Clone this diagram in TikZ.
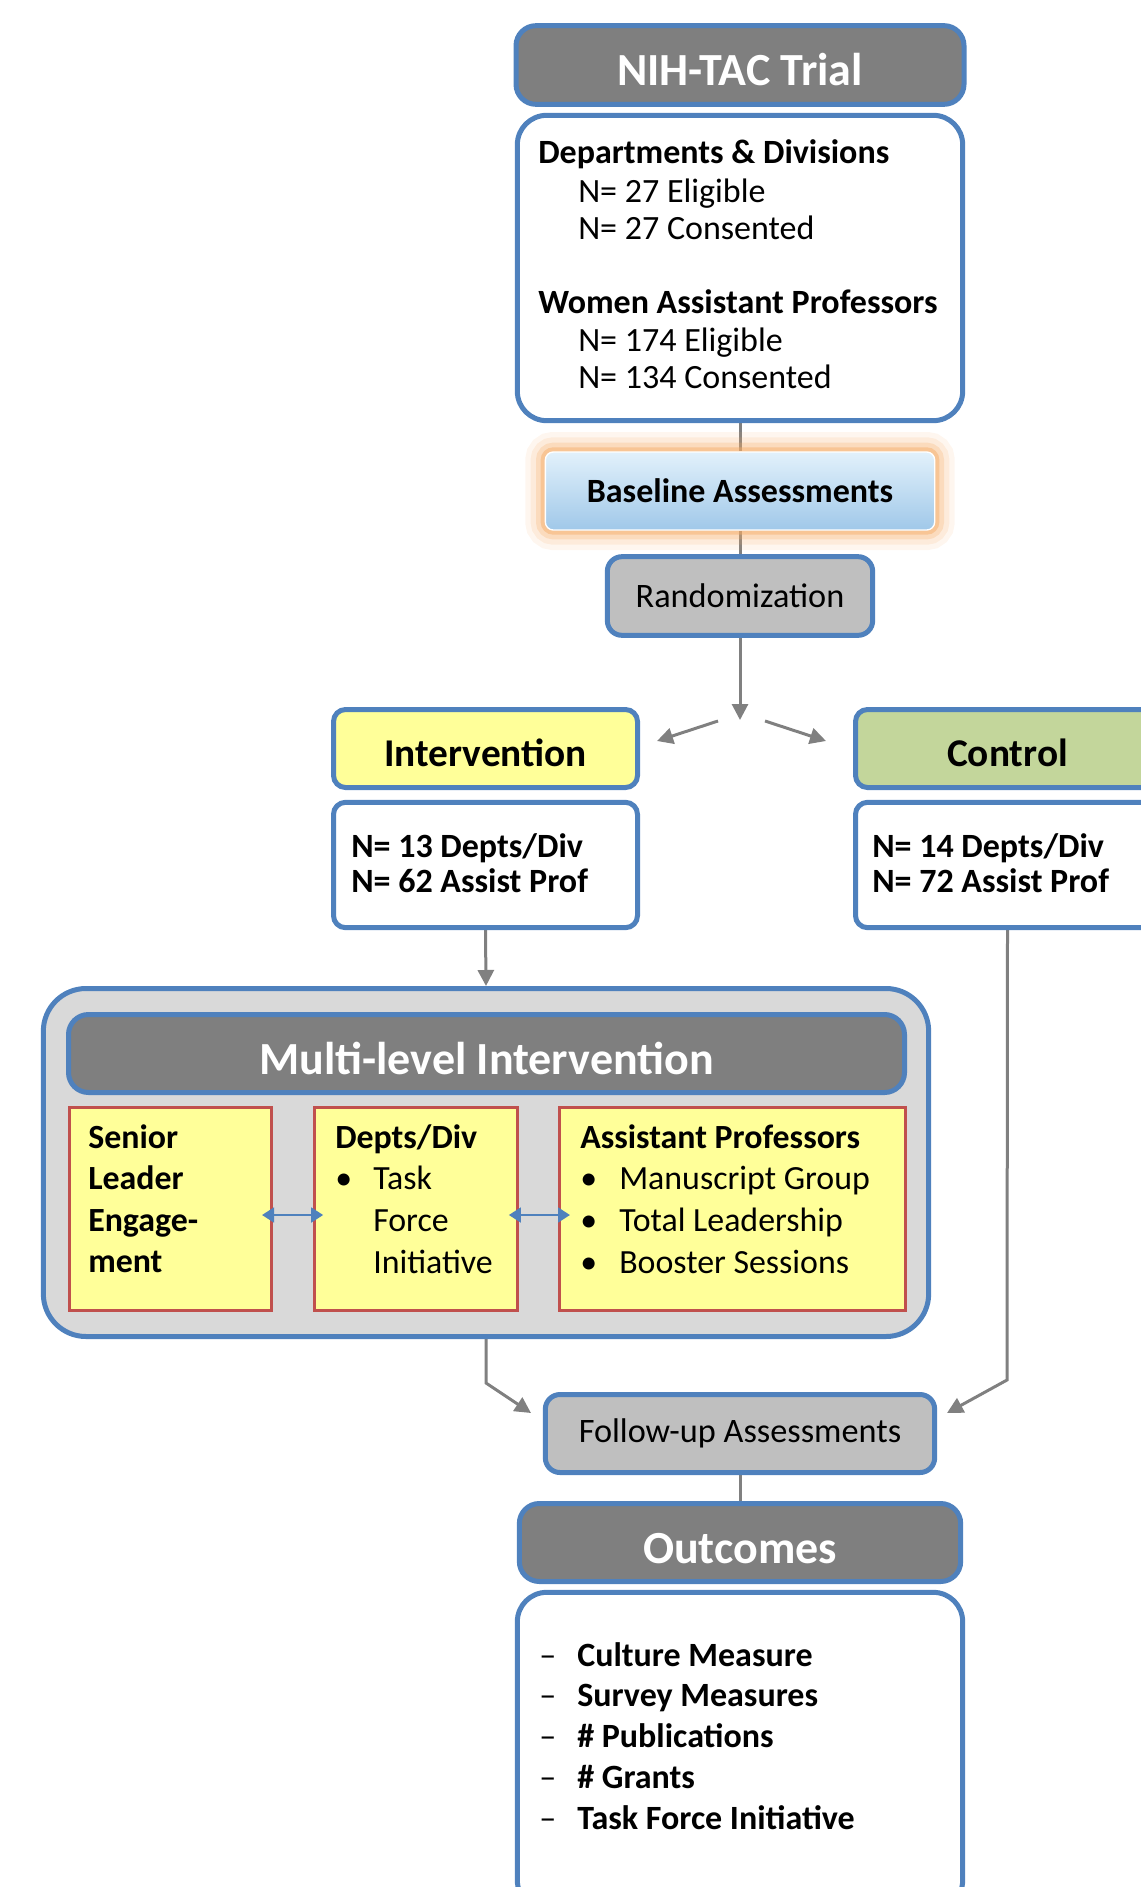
\documentclass[tikz,border=0pt]{standalone}
\usepackage{fontspec}
\setmainfont{Carlito}
\usepackage{tikz}
\usetikzlibrary{arrows.meta,backgrounds,calc}

\definecolor{boxblue}{RGB}{79,129,189}
\definecolor{hdrgray}{RGB}{127,127,127}
\definecolor{stepgray}{RGB}{191,191,191}
\definecolor{wrapgray}{RGB}{217,217,217}
\definecolor{paleyellow}{RGB}{255,255,153}
\definecolor{ctrlgreen}{RGB}{195,214,155}
\definecolor{redline}{RGB}{192,80,77}
\definecolor{linegray}{RGB}{128,128,128}
\definecolor{glow}{RGB}{245,170,100}
\definecolor{blueTop}{RGB}{226,241,251}
\definecolor{blueBot}{RGB}{160,200,233}

\tikzset{
  every node/.style={inner sep=0pt},
  hdr/.style={draw=boxblue, line width=3.75pt, fill=hdrgray, rounded corners=15pt, text=white, text height=31pt, text depth=0pt, font=\fontsize{34.5}{40}\selectfont\bfseries},
  infobox/.style={draw=boxblue, line width=3.75pt, fill=white, rounded corners=22pt},
  graybox/.style={draw=boxblue, line width=3.75pt, fill=stepgray, rounded corners=11pt, font=\fontsize{25.7}{30}\selectfont},
  armbox/.style={draw=boxblue, line width=3.75pt, rounded corners=9pt, minimum width=228pt, text height=27pt, text depth=0pt, font=\fontsize{29.5}{34}\selectfont\bfseries},
  levelbox/.style={draw=redline, line width=2.25pt, fill=paleyellow, minimum height=152pt},
  glowbox/.style={rounded corners=6pt, top color=blueTop, bottom color=blueBot, draw=white, line width=1pt,
    preaction={draw=glow, line width=30pt, opacity=0.1},
    preaction={draw=glow, line width=22pt, opacity=0.15},
    preaction={draw=glow, line width=14pt, opacity=0.25},
    preaction={draw=glow, line width=7pt, opacity=0.45},
    font=\fontsize{25.5}{30}\selectfont\bfseries},
  txt/.style={anchor=base west, font=\fontsize{25.5}{30}\selectfont},
  btxt/.style={anchor=base west, font=\fontsize{25.5}{30}\selectfont\bfseries},
  mtxt/.style={anchor=base west, font=\fontsize{25.4}{30}\selectfont},
  mbtxt/.style={anchor=base west, font=\fontsize{25.4}{30}\selectfont\bfseries},
  conn/.style={draw=linegray, line width=2.25pt},
  arr/.style={conn, -{Triangle[length=12pt,width=12pt]}},
  dblarr/.style={draw=boxblue, line width=2pt, {Triangle[length=9pt,width=11pt]}-{Triangle[length=9pt,width=11pt]}}
}

\begin{document}
\begin{tikzpicture}[x=0.75pt,y=0.75pt,yscale=-1,xscale=1]
\useasboundingbox (0,0) rectangle (1141,1887);

% Trial header
\node[hdr, minimum width=336pt, minimum height=59pt] (trial) at (740,65) {NIH-TAC Trial};
% Eligibility box
\node[infobox, minimum width=334pt, minimum height=229pt] (elig) at (740,268) {};
\node[btxt] (deptHead) at (538,164) {Departments \& Divisions};
\node[txt] (deptElig) at (578,203) {N= 27 Eligible};
\node[txt] (deptCons) at (578,239) {N= 27 Consented};
\node[btxt] (profHead) at (538,313) {Women Assistant Professors};
\node[txt] (profElig) at (578,351) {N= 174 Eligible};
\node[txt] (profCons) at (578,388) {N= 134 Consented};

% Baseline and randomization
\node[glowbox, minimum width=292pt, minimum height=58.5pt] (baseline) at (740,491) {Baseline Assessments};
\node[graybox, minimum width=199pt, minimum height=59pt] (random) at (740,596) {Randomization};

\coordinate (split) at (740,720);
\coordinate (splitL) at (718,721);
\coordinate (tipL) at (657,741);
\coordinate (splitR) at (765,721);
\coordinate (tipR) at (826,741);

% Study arms
\node[armbox, fill=paleyellow, minimum height=58.5pt] (interv) at (485.5,748.5) {Intervention};
\node[infobox, rounded corners=9pt, minimum width=228pt, minimum height=94pt] (intervN) at (485.5,865) {};
\node[btxt] (intervDept) at (351,857) {N= 13 Depts/Div};
\node[btxt] (intervProf) at (351,892) {N= 62 Assist Prof};

\node[armbox, fill=ctrlgreen, minimum height=58.5pt] (control) at (1007.5,748.5) {Control};
\node[infobox, rounded corners=9pt, minimum width=228pt, minimum height=94pt] (controlN) at (1007.5,865) {};
\node[btxt] (ctrlDept) at (872,857) {N= 14 Depts/Div};
\node[btxt] (ctrlProf) at (872,892) {N= 72 Assist Prof};

% Multi-level intervention
\node[draw=boxblue, line width=3.75pt, fill=wrapgray, rounded corners=32pt, minimum width=664pt, minimum height=261pt] (multi) at (486,1162.5) {};
\node[hdr, minimum width=627pt, minimum height=58.5pt] (multiHdr) at (486.5,1053.5) {Multi-level Intervention};
\node[levelbox, minimum width=151.5pt] (senior) at (170.5,1209) {};
\node[levelbox, minimum width=152pt] (deptsDiv) at (416,1209) {};
\node[levelbox, minimum width=259.5pt] (asstProf) at (732.5,1209) {};

\node[mbtxt] (sen1) at (88,1148) {Senior};
\node[mbtxt] (sen2) at (88,1189) {Leader};
\node[mbtxt] (sen3) at (88,1231) {Engage-};
\node[mbtxt] (sen4) at (88,1272) {ment};

\node[mbtxt] (dd0) at (335,1148) {Depts/Div};
\node[mtxt] (ddBul) at (335,1189) {\textbullet};
\node[mtxt] (dd1) at (373,1189) {Task};
\node[mtxt] (dd2) at (373,1231) {Force};
\node[mtxt] (dd3) at (373,1273) {Initiative};

\node[mbtxt] (ap0) at (580,1148) {Assistant Professors};
\foreach \lbl [count=\i] in {Manuscript Group, Total Leadership, Booster Sessions} {
  \node[mtxt] (apBul\i) at ({580},{1189+42*(\i-1)}) {\textbullet};
  \node[mtxt] (ap\i) at ({619},{1189+42*(\i-1)}) {\lbl};
}

\draw[dblarr] ($(senior.east)+(-11,6)$) -- ($(deptsDiv.west)+(10,6)$);
\draw[dblarr] ($(deptsDiv.east)+(-10,6)$) -- ($(asstProf.west)+(12,6)$);

% Follow-up and outcomes
\node[graybox, minimum width=292pt, minimum height=58.5pt] (followup) at (740,1433.5) {Follow-up Assessments};
\coordinate (mBend) at (486,1383);
\coordinate (mTip) at (531,1413);
\coordinate (cBend) at (1007,1380);
\coordinate (cTip) at (947,1413);

\node[hdr, minimum width=331pt, minimum height=58.5pt] (outcomes) at (740,1542.5) {Outcomes};
\node[infobox, minimum width=334pt, minimum height=238pt] (outList) at (740,1751) {};
\foreach \lbl [count=\i] in {Culture Measure, Survey Measures, \# Publications, \# Grants, Task Force Initiative} {
  \node[txt] (dash\i) at ({539},{1666+40.8*(\i-1)}) {\textendash};
  \node[btxt] (out\i) at ({577},{1666+40.8*(\i-1)}) {\lbl};
}

% Connectors
\begin{scope}[on background layer]
\draw[conn] (elig.south) -- (baseline.north);
\draw[conn] (baseline.south) -- (random.north);
\draw[arr] (random.south) -- (split);
\draw[arr] (splitL) -- (tipL);
\draw[arr] (splitR) -- (tipR);
\draw[arr] (intervN.south) -- (multi.north);
\draw[arr] (multi.south) -- (mBend) -- (mTip);
\draw[arr] (controlN.south) -- (cBend) -- (cTip);
\draw[conn] (followup.south) -- (outcomes.north);
\end{scope}

\end{tikzpicture}
\end{document}
